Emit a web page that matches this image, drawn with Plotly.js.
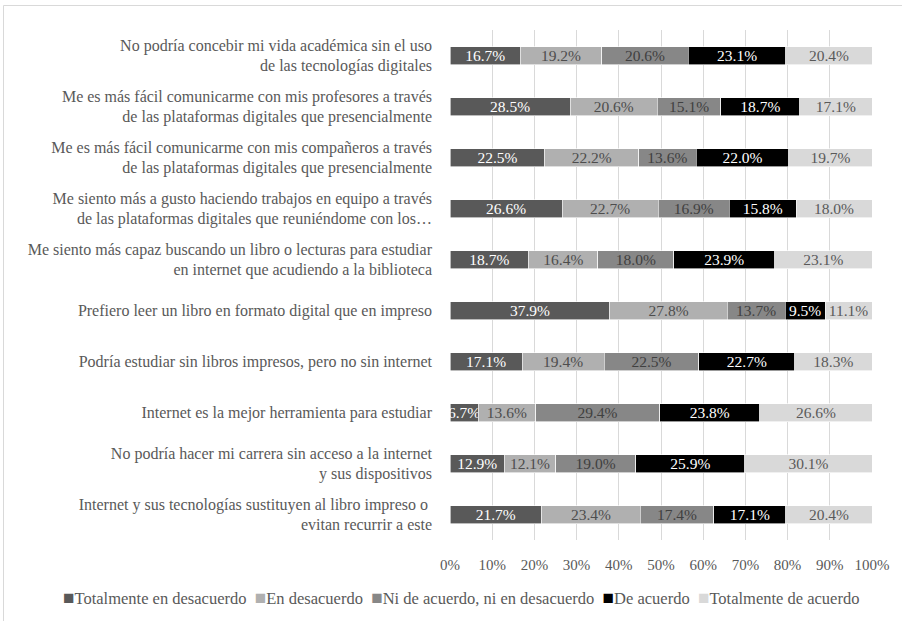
<!DOCTYPE html>
<html>
<head>
<meta charset="utf-8">
<script src="https://cdn.plot.ly/plotly-3.0.1.min.js"></script>
<style>
  html, body { margin: 0; padding: 0; background: #ffffff; }
  #chart { width: 902px; height: 621px; }
</style>
</head>
<body>
<div id="chart"></div>
<script>
// Categories, top to bottom
const categories = [
  "No podría concebir mi vida académica sin el uso<br>de las tecnologías digitales",
  "Me es más fácil comunicarme con mis profesores a través<br>de las plataformas digitales que presencialmente",
  "Me es más fácil comunicarme con mis compañeros a través<br>de las plataformas digitales que presencialmente",
  "Me siento más a gusto haciendo trabajos en equipo a través<br>de las plataformas digitales que reuniéndome con los…",
  "Me siento más capaz buscando un libro o lecturas para estudiar<br>en internet que acudiendo a la biblioteca",
  "Prefiero leer un libro en formato digital que en impreso",
  "Podría estudiar sin libros impresos, pero no sin internet",
  "Internet es la mejor herramienta para estudiar",
  "No podría hacer mi carrera sin acceso a la internet<br>y sus dispositivos",
  "Internet y sus tecnologías sustituyen al libro impreso o <br>evitan recurrir a este"
];

const seriesNames = [
  "Totalmente en desacuerdo",
  "En desacuerdo",
  "Ni de acuerdo, ni en desacuerdo",
  "De acuerdo",
  "Totalmente de acuerdo"
];

// Percent values per series (same order as categories)
const totalmenteEnDesacuerdo = [16.7, 28.5, 22.5, 26.6, 18.7, 37.9, 17.1, 6.7, 12.9, 21.7];
const enDesacuerdo           = [19.2, 20.6, 22.2, 22.7, 16.4, 27.8, 19.4, 13.6, 12.1, 23.4];
const niDeAcuerdo            = [20.6, 15.1, 13.6, 16.9, 18.0, 13.7, 22.5, 29.4, 19.0, 17.4];
const deAcuerdo              = [23.1, 18.7, 22.0, 15.8, 23.9, 9.5, 22.7, 23.8, 25.9, 17.1];
const totalmenteDeAcuerdo    = [20.4, 17.1, 19.7, 18.0, 23.1, 11.1, 18.3, 26.6, 30.1, 20.4];

const xTickVals = [0, 10, 20, 30, 40, 50, 60, 70, 80, 90, 100];
const xTickText = ["0%", "10%", "20%", "30%", "40%", "50%", "60%", "70%", "80%", "90%", "100%"];

const seriesValues = [totalmenteEnDesacuerdo, enDesacuerdo, niDeAcuerdo, deAcuerdo, totalmenteDeAcuerdo];
const colors = ["#595959", "#b0b0b0", "#878787", "#000000", "#d9d9d9"];
const textColors = ["#ffffff", "#4d4d4d", "#404040", "#ffffff", "#595959"];

const FONT = "Liberation Serif, Times New Roman, serif";

const traces = seriesValues.map((vals, i) => ({
  type: "bar",
  orientation: "h",
  name: seriesNames[i],
  y: categories,
  x: vals,
  text: vals.map(v => v.toFixed(1) + "%"),
  texttemplate: "%{text}",
  textposition: "inside",
  insidetextanchor: "middle",
  textangle: 0,
  constraintext: "none",
  cliponaxis: false,
  textfont: { family: FONT, size: 15.5, color: textColors[i] },
  marker: { color: colors[i], line: { color: "#ffffff", width: 0.6 } },
  hoverinfo: "skip",
  showlegend: false
}));

const W = 902, H = 621;
const M = { l: 450, r: 30, t: 30, b: 81 };
const pw = W - M.l - M.r, ph = H - M.t - M.b;
const px = x => (x - M.l) / pw;
const py = y => (H - M.b - y) / ph;

// legend text built from series names & colors
const legendText = seriesNames.map((n, i) =>
  `<span style="color:${colors[i]};font-size:19px">■</span>${n}`).join("  ");

const layout = {
  width: W, height: H,
  margin: M,
  barmode: "stack",
  barnorm: "percent",
  bargap: 0.647,
  paper_bgcolor: "#ffffff",
  plot_bgcolor: "#ffffff",
  font: { family: FONT, size: 15.5, color: "#595959" },
  showlegend: false,
  xaxis: {
    range: [0, 100],
    tickvals: xTickVals,
    ticktext: xTickText,
    showgrid: true,
    gridcolor: "#d9d9d9",
    gridwidth: 1,
    zeroline: false,
    showline: false,
    ticks: "",
    ticklabelstandoff: 14,
    tickfont: { family: FONT, size: 15, color: "#595959" },
    fixedrange: true
  },
  yaxis: {
    type: "category",
    autorange: "reversed",
    showgrid: false,
    zeroline: false,
    showline: false,
    ticks: "",
    ticklabelstandoff: 17,
    tickfont: { family: FONT, size: 16, color: "#595959" },
    fixedrange: true
  },
  annotations: [{
    xref: "paper", yref: "paper",
    x: px(461), y: py(597),
    xanchor: "center", yanchor: "middle",
    showarrow: false,
    text: legendText,
    font: { family: FONT, size: 16.5, color: "#595959" }
  }],
  shapes: [{
    type: "rect", xref: "paper", yref: "paper", layer: "below",
    x0: px(3.5), x1: px(1000), y0: py(700), y1: py(5.5),
    line: { color: "#d9d9d9", width: 1 },
    fillcolor: "rgba(0,0,0,0)"
  }]
};

Plotly.newPlot("chart", traces, layout, { staticPlot: true, displayModeBar: false });
</script>
</body>
</html>
